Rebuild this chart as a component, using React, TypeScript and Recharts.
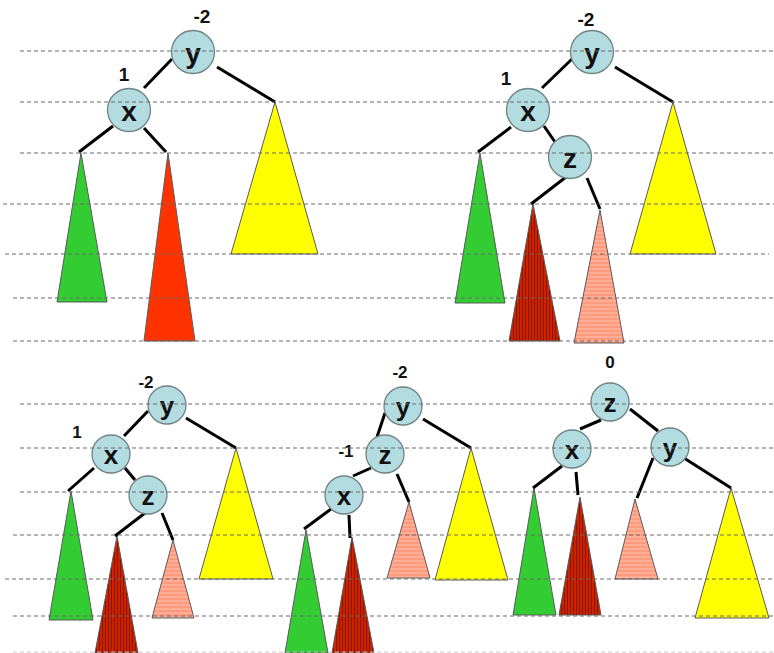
import React from 'react';
import { ComposedChart, XAxis, YAxis, Scatter } from 'recharts';

const W = 774;
const H = 653;

// dashed level lines: [y, xStart, xEnd]
const levelLines: number[][] = [
  [51, 20, 774], [102, 20, 774], [153, 20, 774], [204, 3, 774], [254, 5, 769], [298, 13, 774], [341, 13, 774],
  [404, 20, 774], [448, 20, 774], [492, 20, 774], [535, 13, 774], [579, 5, 774], [616, 13, 774],
];
// faint bottom line: [y, xStart, xEnd]
const faintLines: number[][] = [[652, 13, 774]];

// tree edges: [x1, y1, x2, y2]
const edges: number[][] = [
  // top-left tree
  [172, 59, 144, 88], [217, 67, 275, 102], [113, 126, 79, 152], [144, 128, 166, 152],
  // top-right tree
  [572, 59, 542, 88], [615, 67, 673, 102], [511, 127, 478, 152], [544, 126, 555, 142], [566, 177, 531, 204], [587, 178, 600, 209],
  // bottom-left tree
  [148, 411, 124, 436], [186, 418, 236, 448], [94, 468, 68, 491], [125, 468, 135, 480], [145, 513, 115, 536], [162, 513, 173, 540],
  // bottom-middle tree
  [385, 413, 377, 437], [423, 419, 471, 448], [371, 468, 353, 476], [397, 474, 409, 502], [331, 509, 304, 529], [349, 515, 350, 538],
  // bottom-right tree
  [601, 420, 580, 429], [630, 409, 658, 431], [562, 466, 533, 488], [576, 472, 578, 495], [653, 458, 637, 498], [684, 458, 731, 488],
];

// subtrees: apex x, apex y, base left x, base right x, base y, kind
type Tri = [number, number, number, number, number, string];
const subtrees: Tri[] = [
  [81, 153, 57, 107, 302, 'green'], [168, 153, 144, 195, 341, 'red'], [275, 102, 231, 318, 254, 'yellow'],
  [480, 153, 455, 505, 303, 'green'], [533, 204, 509, 560, 341, 'darkred'], [600, 210, 574, 624, 343, 'salmon'], [673, 102, 630, 716, 254, 'yellow'],
  [71, 491, 49, 93, 620, 'green'], [117, 536, 95, 138, 653, 'darkred'], [173, 540, 152, 194, 618, 'salmon'], [236, 448, 199, 273, 579, 'yellow'],
  [306, 530, 285, 328, 653, 'green'], [352, 537, 332, 374, 653, 'darkred'], [409, 502, 387, 430, 578, 'salmon'], [471, 448, 435, 508, 580, 'yellow'],
  [534, 488, 513, 556, 615, 'green'], [580, 497, 559, 601, 615, 'darkred'], [635, 499, 615, 658, 579, 'salmon'], [731, 488, 695, 769, 618, 'yellow'],
];

const topNodes = [
  { x: 193, y: 52, name: 'y' }, { x: 129, y: 110, name: 'x' },
  { x: 592, y: 52, name: 'y' }, { x: 528, y: 110, name: 'x' }, { x: 570, y: 157, name: 'z' },
];
const bottomNodes = [
  { x: 167, y: 405, name: 'y' }, { x: 111, y: 454, name: 'x' }, { x: 148, y: 495, name: 'z' },
  { x: 403, y: 406, name: 'y' }, { x: 385, y: 454, name: 'z' }, { x: 344, y: 495, name: 'x' },
  { x: 610, y: 402, name: 'z' }, { x: 572, y: 449, name: 'x' }, { x: 670, y: 447, name: 'y' },
];

const topBalance = [
  { x: 202, y: 23, text: '-2' }, { x: 124, y: 81, text: '1' },
  { x: 586, y: 26, text: '-2' }, { x: 506, y: 85, text: '1' },
];
const bottomBalance = [
  { x: 146, y: 388, text: '-2' }, { x: 77, y: 438, text: '1' },
  { x: 400, y: 378, text: '-2' }, { x: 346, y: 457, text: '-1' },
  { x: 610, y: 368, text: '0' },
];

const FILLS: Record<string, string> = {
  green: '#33cc33',
  red: '#ff3300',
  yellow: '#ffff00',
  darkred: 'url(#vstripe)',
  salmon: 'url(#hstripe)',
};

const FONT = '"Liberation Sans", Arial, Helvetica, sans-serif';

const Empty = () => <g />;

const makeNode = (r: number, fs: number) => (props: any) => {
  const { cx, cy, payload } = props;
  return (
    <g>
      <circle cx={cx} cy={cy} r={r} fill="#b3dce0" stroke="#6f8285" strokeWidth={1.3} />
      <text x={cx} y={cy + fs * 0.38} textAnchor="middle" fontSize={fs} fontWeight="bold" fontFamily={FONT} fill="#111">
        {payload.name}
      </text>
    </g>
  );
};

const makeLabel = (fs: number) => (props: any) => {
  const { cx, cy, payload } = props;
  return (
    <text x={cx} y={cy} textAnchor="middle" fontSize={fs} fontWeight="bold" fontFamily={FONT} fill="#111">
      {payload.text}
    </text>
  );
};

const TopNode = makeNode(21.5, 28);
const BottomNode = makeNode(19, 26);
const TopLabel = makeLabel(19);
const BottomLabel = makeLabel(17);

export default function App() {
  return (
    <div style={{ position: 'absolute', left: 0, top: 0, width: W, height: H, background: '#fff' }}>
      <svg width={0} height={0} style={{ position: 'absolute' }}>
        <defs>
          <pattern id="vstripe" patternUnits="userSpaceOnUse" width={3} height={10}>
            <rect width={3} height={10} fill="#cc2200" />
            <rect width={1} height={10} fill="#8a1500" />
          </pattern>
          <pattern id="hstripe" patternUnits="userSpaceOnUse" width={10} height={4}>
            <rect width={10} height={4} fill="#ff9a7e" />
            <rect width={10} height={2} fill="#ffae96" />
          </pattern>
        </defs>
      </svg>
      <ComposedChart width={W} height={H} margin={{ top: 0, right: 0, bottom: 0, left: 0 }}>
        <XAxis type="number" dataKey="x" domain={[0, W]} allowDataOverflow hide />
        <YAxis type="number" dataKey="y" domain={[0, H]} allowDataOverflow reversed hide />

        {subtrees.map((t, i) => (
          <Scatter
            key={`tri-${i}`}
            data={[
              { x: t[0], y: t[1] },
              { x: t[2], y: t[4] },
              { x: t[3], y: t[4] },
              { x: t[0], y: t[1] },
            ]}
            shape={Empty}
            line={{ fill: FILLS[t[5]], stroke: '#5a5a5a', strokeWidth: 1 }}
            isAnimationActive={false}
          />
        ))}

        {edges.map((e, i) => (
          <Scatter
            key={`edge-${i}`}
            data={[{ x: e[0], y: e[1] }, { x: e[2], y: e[3] }]}
            shape={Empty}
            line={{ stroke: '#000', strokeWidth: 3 }}
            isAnimationActive={false}
          />
        ))}

        <Scatter data={topNodes} shape={TopNode} isAnimationActive={false} />
        <Scatter data={bottomNodes} shape={BottomNode} isAnimationActive={false} />
        <Scatter data={topBalance} shape={TopLabel} isAnimationActive={false} />
        <Scatter data={bottomBalance} shape={BottomLabel} isAnimationActive={false} />

        {levelLines.map((l, i) => (
          <Scatter
            key={`lvl-${i}`}
            data={[{ x: l[1], y: l[0] }, { x: l[2], y: l[0] }]}
            shape={Empty}
            line={{ stroke: '#6a6a6a', strokeWidth: 1.1, strokeDasharray: '4 3' }}
            isAnimationActive={false}
          />
        ))}
        {faintLines.map((l, i) => (
          <Scatter
            key={`faint-${i}`}
            data={[{ x: l[1], y: l[0] }, { x: l[2], y: l[0] }]}
            shape={Empty}
            line={{ stroke: '#c8c8c8', strokeWidth: 1, strokeDasharray: '4 3' }}
            isAnimationActive={false}
          />
        ))}
      </ComposedChart>
    </div>
  );
}
